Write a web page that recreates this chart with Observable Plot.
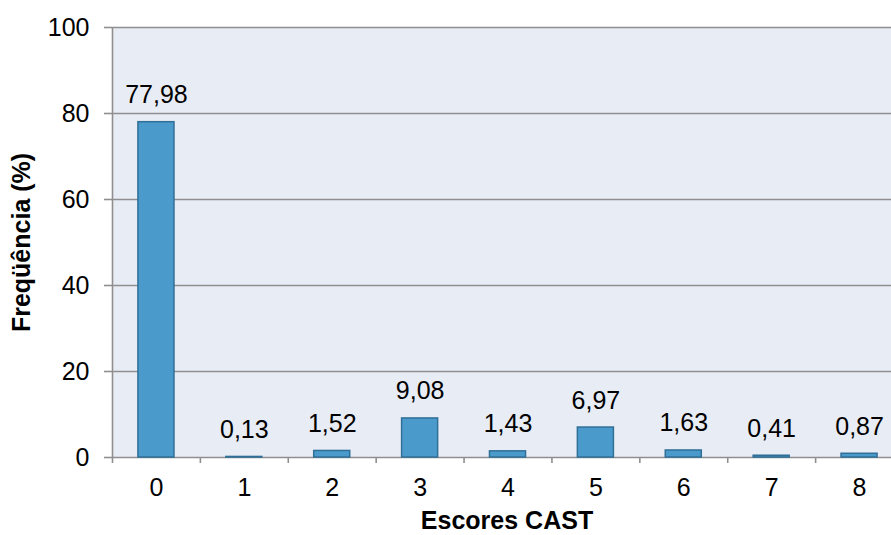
<!DOCTYPE html>
<html>
<head>
<meta charset="utf-8">
<script src="https://cdn.jsdelivr.net/npm/d3@7"></script>
<script src="https://cdn.jsdelivr.net/npm/@observablehq/plot@0.6"></script>
<style>
  html, body { margin: 0; padding: 0; background: #fff; overflow: hidden; }
  svg { display: block; }
</style>
</head>
<body>
<div id="chart"></div>
<script>
const scores = ["0", "1", "2", "3", "4", "5", "6", "7", "8"];
const frequencies = [77.98, 0.13, 1.52, 9.08, 1.43, 6.97, 1.63, 0.41, 0.87];
const yTicks = [0, 20, 40, 60, 80, 100];
const xTitle = "Escores CAST";
const yTitle = "Freqüência (%)";

const data = scores.map((s, i) => ({score: s, value: frequencies[i]}));
const fmt = v => v.toFixed(2).replace(".", ",");
const font = "'Liberation Sans', Arial, sans-serif";
const fs = 25;
const gray = "#8f8f8f";
const step = (903 - 112) / scores.length;

const chart = Plot.plot({
  width: 891,
  height: 535,
  marginLeft: 112,
  marginRight: 0,
  marginTop: 27,
  marginBottom: 78,
  style: {fontFamily: font, fontSize: fs + "px", color: "#000", background: "#fff"},
  x: {domain: scores, range: [112, 903], paddingInner: 0.59, paddingOuter: 0.295, round: false, axis: null},
  y: {domain: [0, 100], ticks: yTicks, axis: null},
  marks: [
    Plot.frame({fill: "#e8ecf4", stroke: null}),
    Plot.gridY(yTicks, {stroke: gray, strokeOpacity: 1, strokeWidth: 1.6}),
    Plot.ruleX([scores[0]], {dx: -step / 2, y1: 0, y2: 100, stroke: gray, strokeWidth: 1.6}),
    Plot.axisY(yTicks, {tickSize: 8, tickPadding: 15, stroke: gray, strokeWidth: 1.6, fill: "#000", fontSize: fs, label: null, tickFormat: d => d}),
    Plot.axisX(scores, {tickSize: 6, dx: -step / 2, text: null, stroke: gray, strokeWidth: 1.6, label: null}),
    Plot.barY(data, {x: "score", y: "value", fill: "#4a9bcb", stroke: "#2f6f98", strokeWidth: 1.5}),
    Plot.text(data, {x: "score", y: "value", text: d => fmt(d.value), dy: -27, lineAnchor: "middle", fontSize: fs, fill: "#000"}),
    Plot.text(scores, {x: d => d, frameAnchor: "bottom", dy: 30, lineAnchor: "middle", fontSize: fs, fill: "#000"}),
    Plot.text([xTitle], {frameAnchor: "bottom", dx: 5, dy: 63, lineAnchor: "middle", fontSize: fs, fontWeight: "bold", fill: "#000"}),
    Plot.text([yTitle], {frameAnchor: "left", dx: -91, rotate: -90, textAnchor: "middle", lineAnchor: "middle", fontSize: fs, fontWeight: "bold", fill: "#000"})
  ]
});
document.getElementById("chart").appendChild(chart);
</script>
</body>
</html>
